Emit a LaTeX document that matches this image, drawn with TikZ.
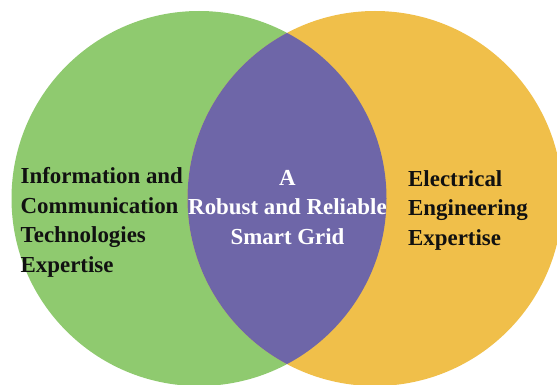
\documentclass[tikz,border=0pt]{standalone}
\usepackage{fontspec}
\setmainfont{Liberation Serif}
\usetikzlibrary{positioning}
\definecolor{ictgreen}{HTML}{8FCA6F}
\definecolor{eeamber}{HTML}{F0BF4A}
\definecolor{gridviolet}{HTML}{6E66A8}
\definecolor{ink}{HTML}{111111}

\begin{document}
\begin{tikzpicture}[
  x=1pt,y=-1pt,
  font=\bfseries\fontsize{22.9}{29.5}\selectfont,
  field/.style={draw=none},
  label/.style={text=ink,align=left,anchor=west,inner sep=0pt},
  core/.style={text=white,align=center,inner sep=0pt}
]

% Canvas of the reference size
\useasboundingbox[fill=white] (0,0) rectangle (557,385);

% Two overlapping fields of expertise
\coordinate (ictc) at (199,198.5);
\coordinate (eec) at (375,198.5);
\fill[field,ictgreen] (ictc) circle[radius=187.5pt];
\fill[field,eeamber] (eec) circle[radius=187.5pt];

% Their intersection
\begin{scope}
  \clip (ictc) circle[radius=187.5pt];
  \fill[field,gridviolet] (eec) circle[radius=187.5pt];
\end{scope}

% Labels
\node[label] (ict) at (20.5,222.5) {Information and\\Communication\\Technologies\\Expertise};
\node[core] (grid) at (287.5,207.5) {A\\Robust and Reliable\\Smart Grid};
\node[label] (ee) at (408,210) {Electrical\\Engineering\\Expertise};

\end{tikzpicture}
\end{document}
